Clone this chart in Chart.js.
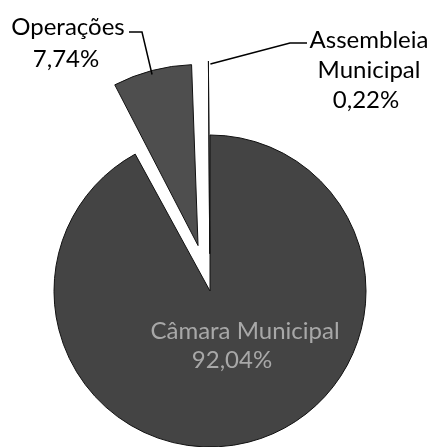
<!DOCTYPE html>
<html lang="pt">
<head>
    <meta charset="UTF-8">
    <title>Distribuição</title>
    <script src="https://cdn.jsdelivr.net/npm/chart.js"></script>
    <style>
        html, body { margin: 0; padding: 0; background: #fff; }
        #wrap { width: 432px; height: 447px; }
    </style>
</head>
<body>
    <div id="wrap"><canvas id="pieChart" width="432" height="447"></canvas></div>
    <script>
        // Dados do gráfico
        const categorias = ['Câmara Municipal', 'Operações', 'Assembleia Municipal'];
        const valores = [92.04, 7.74, 0.22];
        const rotulos = [['Câmara Municipal', '92,04%'], ['Operações', '7,74%'], ['Assembleia', 'Municipal', '0,22%']];
        const destaque = [0, 72, 74]; // deslocamento em px
        const cores = ['#444444', '#4e4e4e', '#111111'];

        // Chart.js desloca a fatia offset/4 * (1 + fix); converte px -> offset
        const total = valores.reduce((s, v) => s + v, 0);
        const offsets = valores.map((v, i) => {
            const c = v / total * 2 * Math.PI;
            const fix = 1 - Math.sin(Math.min(Math.PI, c));
            return destaque[i] * 4 / (1 + fix);
        });

        // Rótulos e linhas de chamada
        const rotulosPlugin = {
            id: 'rotulos',
            afterDatasetsDraw(chart) {
                const ctx = chart.ctx;
                const arcs = chart.getDatasetMeta(0).data;

                // ponto exterior no meio de cada fatia
                function pontoFora(i) {
                    const a = arcs[i];
                    const mid = (a.startAngle + a.endAngle) / 2;
                    const d = destaque[i] + a.outerRadius;
                    return { x: a.x + Math.cos(mid) * d, y: a.y + Math.sin(mid) * d };
                }

                ctx.save();
                ctx.font = '24px Lato, "Liberation Sans", sans-serif';
                ctx.textAlign = 'center';
                ctx.textBaseline = 'alphabetic';

                // Câmara Municipal (dentro)
                ctx.fillStyle = '#a8a8a8';
                ctx.fillText(rotulos[0][0], 245, 339);
                ctx.fillText(rotulos[0][1], 232, 368);

                // Operações
                ctx.fillStyle = '#000';
                ctx.fillText(rotulos[1][0], 68, 35);
                ctx.fillText(rotulos[1][1], 66, 67);

                // Assembleia Municipal
                ctx.fillText(rotulos[2][0], 369, 48);
                ctx.fillText(rotulos[2][1], 369, 78);
                ctx.fillText(rotulos[2][2], 366, 108);

                ctx.strokeStyle = '#000';
                ctx.lineWidth = 1.5;
                let p = pontoFora(1);
                ctx.beginPath();
                ctx.moveTo(129, 32);
                ctx.lineTo(142, 32);
                ctx.lineTo(p.x, p.y + 4);
                ctx.stroke();

                p = pontoFora(2);
                ctx.beginPath();
                ctx.moveTo(307, 43);
                ctx.lineTo(290, 43);
                ctx.lineTo(p.x + 2, p.y + 3);
                ctx.stroke();
                ctx.restore();
            }
        };

        const pieChart = new Chart(document.getElementById('pieChart').getContext('2d'), {
            type: 'pie',
            data: {
                labels: categorias,
                datasets: [{
                    data: valores,
                    backgroundColor: cores,
                    borderColor: '#111',
                    borderWidth: 1,
                    offset: offsets,
                    clip: false
                }]
            },
            options: {
                responsive: false,
                animation: false,
                radius: 156,
                layout: { padding: { left: 0, right: 12, top: 135, bottom: 0 } },
                plugins: {
                    legend: { display: false },
                    tooltip: { enabled: false }
                }
            },
            plugins: [rotulosPlugin]
        });
    </script>
</body>
</html>
